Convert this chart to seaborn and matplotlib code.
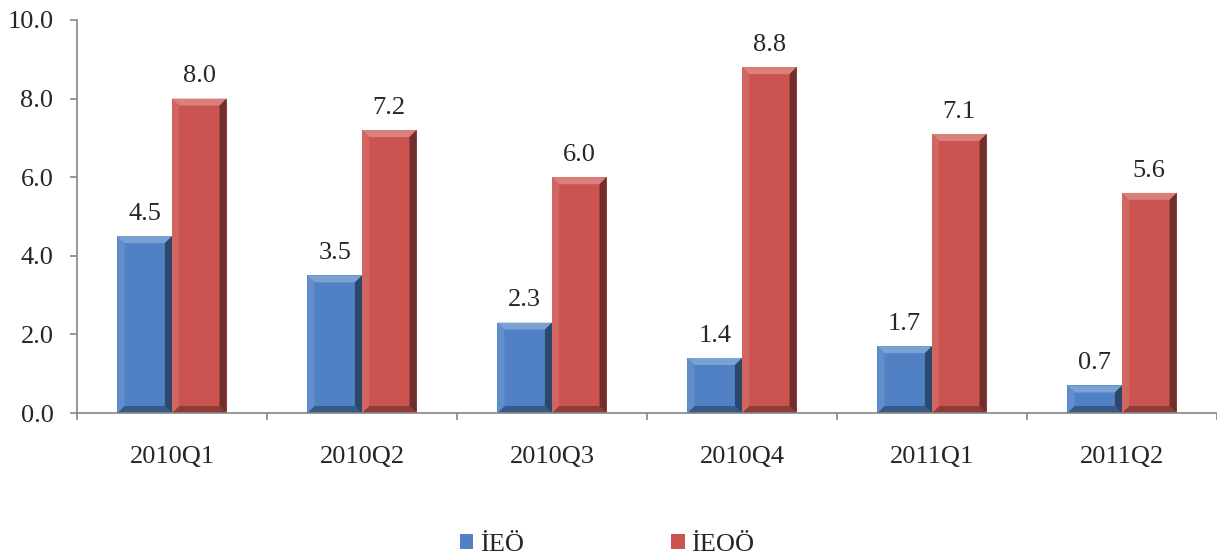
import glob
import matplotlib
matplotlib.use("Agg")
import matplotlib.pyplot as plt
from matplotlib import font_manager
from matplotlib.patches import Polygon
import matplotlib.colors as mcolors
import numpy as np
import pandas as pd
import seaborn as sns

# Quarterly values for the two series
quarters = ["2010Q1", "2010Q2", "2010Q3", "2010Q4", "2011Q1", "2011Q2"]
ieo = [4.5, 3.5, 2.3, 1.4, 1.7, 0.7]
ieoo = [8.0, 7.2, 6.0, 8.8, 7.1, 5.6]
series_names = ["İEÖ", "İEOÖ"]
series_colors = ["#4F81C4", "#CC5450"]

df = pd.DataFrame({
    "quarter": quarters * 2,
    "value": ieo + ieoo,
    "series": [series_names[0]] * len(quarters) + [series_names[1]] * len(quarters),
})

sns.set_style("white")

# Register a Times-like serif face if the font files are on the system
for pattern in ["/usr/share/fonts/**/LiberationSerif*.ttf",
                "/usr/local/share/fonts/**/LiberationSerif*.ttf"]:
    for path in glob.glob(pattern, recursive=True):
        try:
            font_manager.fontManager.addfont(path)
        except Exception:
            pass

installed = {f.name for f in font_manager.fontManager.ttflist}
serif_pick = [n for n in ["Liberation Serif", "Times New Roman", "Nimbus Roman",
                          "Tinos", "DejaVu Serif"] if n in installed]
plt.rcParams["font.family"] = serif_pick + ["DejaVu Sans"]

FS = 19

fig = plt.figure(figsize=(12.17, 5.54), dpi=100)
ax = fig.add_axes([77 / 1217, 141 / 554, 1140 / 1217, 393 / 554])

sns.barplot(data=df, x="quarter", y="value", hue="series", order=quarters,
            hue_order=series_names, palette=series_colors, width=0.575,
            saturation=1, linewidth=0, ax=ax)

ax.set_xlim(-0.5, 5.5)
ax.set_ylim(0, 10)
ax.set_yticks(np.arange(0, 10.01, 2))
ax.set_yticklabels([f"{v:.1f}" for v in np.arange(0, 10.01, 2)])
ax.set_xlabel("")
ax.set_ylabel("")

# Bevelled look for each bar, derived from the bar geometry
px_per_unit = 393 / 10
bars = [p for p in ax.patches if p.get_height() > 0]
for p in bars:
    x0, y0 = p.get_x(), p.get_y()
    w, h = p.get_width(), p.get_height()
    x1, y1 = x0 + w, y0 + h
    dx = w * 0.13
    dy = 7 / px_per_unit
    base = np.array(mcolors.to_rgb(p.get_facecolor()))
    light = np.clip(base + (1 - base) * 0.25, 0, 1)
    lighter = np.clip(base + (1 - base) * 0.1, 0, 1)
    dark = base * 0.55
    darker = base * 0.7
    faces = [
        ([(x0, y1), (x1, y1), (x1 - dx, y1 - dy), (x0 + dx, y1 - dy)], light),
        ([(x0, y0), (x1, y0), (x1 - dx, y0 + dy), (x0 + dx, y0 + dy)], darker),
        ([(x0, y0), (x0 + dx, y0 + dy), (x0 + dx, y1 - dy), (x0, y1)], lighter),
        ([(x1, y0), (x1 - dx, y0 + dy), (x1 - dx, y1 - dy), (x1, y1)], dark),
    ]
    for pts, col in faces:
        ax.add_patch(Polygon(pts, closed=True, facecolor=col, edgecolor="none",
                             zorder=p.get_zorder() + 0.1))

for cont in ax.containers:
    ax.bar_label(cont, fmt="%.1f", padding=8, fontsize=FS)

for s in ["top", "right"]:
    ax.spines[s].set_visible(False)
for s in ["left", "bottom"]:
    ax.spines[s].set_color("#868686")
    ax.spines[s].set_linewidth(1.2)

ax.tick_params(axis="y", which="major", direction="out", length=5, width=1.2,
               color="#868686", pad=12, labelsize=FS, left=True)
ax.tick_params(axis="x", which="major", length=0, pad=24, labelsize=FS)
ax.set_xticks(np.arange(-0.5, 5.51, 1), minor=True)
ax.tick_params(axis="x", which="minor", direction="out", length=5, width=1.2,
               color="#868686", bottom=True)

sns.move_legend(ax, "center", bbox_to_anchor=(0.465, -0.335), ncol=2, frameon=False,
                title=None, fontsize=FS, handlelength=0.5, handleheight=0.5,
                handletextpad=0.25, columnspacing=5.6)

fig.savefig("out.png", dpi=100)
